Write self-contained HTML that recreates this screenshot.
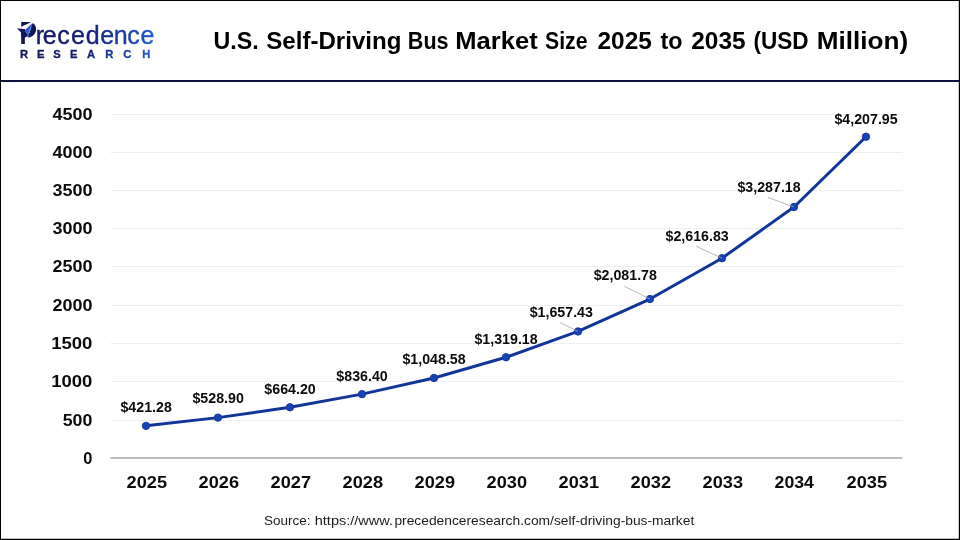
<!DOCTYPE html>
<html lang="en"><head><meta charset="utf-8"><title>U.S. Self-Driving Bus Market Size 2025 to 2035 (USD Million)</title>
<style>
html,body{margin:0;padding:0;background:#fff;}
body{width:960px;height:540px;overflow:hidden;font-family:"Liberation Sans",sans-serif;}
svg{display:block;position:absolute;left:0;top:0;}
text{font-family:"Liberation Sans",sans-serif;}
.b{font-weight:bold;fill:#0b0b0b;}
.t{font-weight:bold;fill:#000;}
</style></head><body>
<svg width="960" height="540" viewBox="0 0 960 540">
<defs>
<linearGradient id="lg" gradientUnits="userSpaceOnUse" x1="17" x2="154" y1="0" y2="0"><stop offset="0" stop-color="#141659"/><stop offset="0.5" stop-color="#151f74"/><stop offset="0.75" stop-color="#1a3a9e"/><stop offset="0.9" stop-color="#1d4ab8"/><stop offset="1" stop-color="#2560d6"/></linearGradient>
</defs>
<rect x="0" y="0" width="960" height="540" fill="#fff"/>

<line x1="110.5" x2="902.5" y1="420.5" y2="420.5" stroke="#eeeeee" stroke-width="1"/>
<line x1="110.5" x2="902.5" y1="381.5" y2="381.5" stroke="#eeeeee" stroke-width="1"/>
<line x1="110.5" x2="902.5" y1="343.5" y2="343.5" stroke="#eeeeee" stroke-width="1"/>
<line x1="110.5" x2="902.5" y1="305.5" y2="305.5" stroke="#eeeeee" stroke-width="1"/>
<line x1="110.5" x2="902.5" y1="266.5" y2="266.5" stroke="#eeeeee" stroke-width="1"/>
<line x1="110.5" x2="902.5" y1="228.5" y2="228.5" stroke="#eeeeee" stroke-width="1"/>
<line x1="110.5" x2="902.5" y1="190.5" y2="190.5" stroke="#eeeeee" stroke-width="1"/>
<line x1="110.5" x2="902.5" y1="152.5" y2="152.5" stroke="#eeeeee" stroke-width="1"/>
<line x1="110.5" x2="902.5" y1="114.5" y2="114.5" stroke="#eeeeee" stroke-width="1"/>
<line x1="110.5" x2="902.5" y1="458.0" y2="458.0" stroke="#bdbdbd" stroke-width="2"/>
<text class="b" x="83.3" y="463.9" font-size="16" textLength="9.1" lengthAdjust="spacingAndGlyphs">0</text>
<text class="b" x="62.7" y="426.4" font-size="16" textLength="29.69" lengthAdjust="spacingAndGlyphs">500</text>
<text class="b" x="51.24" y="387.4" font-size="16" textLength="41.14" lengthAdjust="spacingAndGlyphs">1000</text>
<text class="b" x="51.24" y="349.4" font-size="16" textLength="41.14" lengthAdjust="spacingAndGlyphs">1500</text>
<text class="b" x="52.4" y="311.4" font-size="16" textLength="39.99" lengthAdjust="spacingAndGlyphs">2000</text>
<text class="b" x="52.4" y="272.4" font-size="16" textLength="39.99" lengthAdjust="spacingAndGlyphs">2500</text>
<text class="b" x="52.4" y="234.4" font-size="16" textLength="39.99" lengthAdjust="spacingAndGlyphs">3000</text>
<text class="b" x="52.4" y="196.4" font-size="16" textLength="39.99" lengthAdjust="spacingAndGlyphs">3500</text>
<text class="b" x="52.4" y="158.4" font-size="16" textLength="39.99" lengthAdjust="spacingAndGlyphs">4000</text>
<text class="b" x="52.4" y="120.4" font-size="16" textLength="39.99" lengthAdjust="spacingAndGlyphs">4500</text>
<text class="b" x="126.6" y="488.3" font-size="17" textLength="40.39" lengthAdjust="spacingAndGlyphs">2025</text>
<text class="b" x="198.6" y="488.3" font-size="17" textLength="40.39" lengthAdjust="spacingAndGlyphs">2026</text>
<text class="b" x="270.6" y="488.3" font-size="17" textLength="40.39" lengthAdjust="spacingAndGlyphs">2027</text>
<text class="b" x="342.6" y="488.3" font-size="17" textLength="40.39" lengthAdjust="spacingAndGlyphs">2028</text>
<text class="b" x="414.6" y="488.3" font-size="17" textLength="40.39" lengthAdjust="spacingAndGlyphs">2029</text>
<text class="b" x="486.6" y="488.3" font-size="17" textLength="40.39" lengthAdjust="spacingAndGlyphs">2030</text>
<text class="b" x="558.6" y="488.3" font-size="17" textLength="40.39" lengthAdjust="spacingAndGlyphs">2031</text>
<text class="b" x="630.6" y="488.3" font-size="17" textLength="40.39" lengthAdjust="spacingAndGlyphs">2032</text>
<text class="b" x="702.6" y="488.3" font-size="17" textLength="40.39" lengthAdjust="spacingAndGlyphs">2033</text>
<text class="b" x="774.6" y="488.3" font-size="17" textLength="39.33" lengthAdjust="spacingAndGlyphs">2034</text>
<text class="b" x="846.6" y="488.3" font-size="17" textLength="40.39" lengthAdjust="spacingAndGlyphs">2035</text>
<polyline points="146.0,425.83 218.0,417.62 290.0,407.28 362.0,394.14 434.0,377.94 506.0,357.27 578.0,331.45 650.0,299.04 722.0,258.19 794.0,207.01 866.0,136.70" fill="none" stroke="#12359a" stroke-width="3" stroke-linejoin="round" stroke-linecap="round"/>
<circle cx="146.0" cy="425.83" r="3.7" fill="#1942b6" stroke="#12359a" stroke-width="0.9"/>
<circle cx="218.0" cy="417.62" r="3.7" fill="#1942b6" stroke="#12359a" stroke-width="0.9"/>
<circle cx="290.0" cy="407.28" r="3.7" fill="#1942b6" stroke="#12359a" stroke-width="0.9"/>
<circle cx="362.0" cy="394.14" r="3.7" fill="#1942b6" stroke="#12359a" stroke-width="0.9"/>
<circle cx="434.0" cy="377.94" r="3.7" fill="#1942b6" stroke="#12359a" stroke-width="0.9"/>
<circle cx="506.0" cy="357.27" r="3.7" fill="#1942b6" stroke="#12359a" stroke-width="0.9"/>
<circle cx="578.0" cy="331.45" r="3.7" fill="#1942b6" stroke="#12359a" stroke-width="0.9"/>
<circle cx="650.0" cy="299.04" r="3.7" fill="#1942b6" stroke="#12359a" stroke-width="0.9"/>
<circle cx="722.0" cy="258.19" r="3.7" fill="#1942b6" stroke="#12359a" stroke-width="0.9"/>
<circle cx="794.0" cy="207.01" r="3.7" fill="#1942b6" stroke="#12359a" stroke-width="0.9"/>
<circle cx="866.0" cy="136.70" r="3.7" fill="#1942b6" stroke="#12359a" stroke-width="0.9"/>
<line x1="560" y1="322.5" x2="578.0" y2="331.45" stroke="#a6a6a6" stroke-width="0.8"/>
<line x1="624.25" y1="286.25" x2="650.0" y2="299.04" stroke="#a6a6a6" stroke-width="0.8"/>
<line x1="696.25" y1="246.25" x2="722.0" y2="258.19" stroke="#a6a6a6" stroke-width="0.8"/>
<line x1="768" y1="197.5" x2="794.0" y2="207.01" stroke="#a6a6a6" stroke-width="0.8"/>
<text class="b" x="120.45" y="412.05" font-size="14.5" textLength="51.36" lengthAdjust="spacingAndGlyphs">$421.28</text>
<text class="b" x="192.45" y="403.3" font-size="14.5" textLength="51.36" lengthAdjust="spacingAndGlyphs">$528.90</text>
<text class="b" x="264.35" y="394.05" font-size="14.5" textLength="51.36" lengthAdjust="spacingAndGlyphs">$664.20</text>
<text class="b" x="336.35" y="381.05" font-size="14.5" textLength="51.36" lengthAdjust="spacingAndGlyphs">$836.40</text>
<text class="b" x="402.4" y="363.55" font-size="14.5" textLength="63.26" lengthAdjust="spacingAndGlyphs">$1,048.58</text>
<text class="b" x="474.4" y="344.05" font-size="14.5" textLength="63.26" lengthAdjust="spacingAndGlyphs">$1,319.18</text>
<text class="b" x="529.65" y="316.55" font-size="14.5" textLength="63.26" lengthAdjust="spacingAndGlyphs">$1,657.43</text>
<text class="b" x="593.65" y="279.55" font-size="14.5" textLength="63.26" lengthAdjust="spacingAndGlyphs">$2,081.78</text>
<text class="b" x="665.5" y="240.8" font-size="14.5" textLength="63.26" lengthAdjust="spacingAndGlyphs">$2,616.83</text>
<text class="b" x="737.4" y="192.0" font-size="14.5" textLength="63.26" lengthAdjust="spacingAndGlyphs">$3,287.18</text>
<text class="b" x="834.4" y="123.6" font-size="14.5" textLength="63.26" lengthAdjust="spacingAndGlyphs">$4,207.95</text>
<text class="t" y="48.8" font-size="24.5"><tspan x="213.55" textLength="45.21" lengthAdjust="spacingAndGlyphs">U.S.</tspan> <tspan x="266.25" textLength="135.2" lengthAdjust="spacingAndGlyphs">Self-Driving</tspan> <tspan x="407.87" textLength="40.68" lengthAdjust="spacingAndGlyphs">Bus</tspan> <tspan x="455.21" textLength="82.46" lengthAdjust="spacingAndGlyphs">Market</tspan> <tspan x="545.0" textLength="42.54" lengthAdjust="spacingAndGlyphs">Size</tspan> <tspan x="597.5" textLength="54.37" lengthAdjust="spacingAndGlyphs">2025</tspan> <tspan x="660.5" textLength="21.97" lengthAdjust="spacingAndGlyphs">to</tspan> <tspan x="691.25" textLength="54.37" lengthAdjust="spacingAndGlyphs">2035</tspan> <tspan x="753.58" textLength="55.06" lengthAdjust="spacingAndGlyphs">(USD</tspan> <tspan x="816.83" textLength="91.4" lengthAdjust="spacingAndGlyphs">Million)</tspan></text>
<text y="525" font-size="12.7" fill="#1c1c1c"><tspan x="264.0" textLength="46.56" lengthAdjust="spacingAndGlyphs">Source:</tspan> <tspan x="314.75" textLength="78.35" lengthAdjust="spacingAndGlyphs">https://www.</tspan><tspan x="394.4" textLength="299.88" lengthAdjust="spacingAndGlyphs">precedenceresearch.com/self-driving-bus-market</tspan></text>
<rect x="0" y="80" width="960" height="2" fill="#10123f"/>
<text fill="url(#lg)" stroke="url(#lg)" stroke-width="0.35"><tspan x="19.6" y="44.3" font-size="31.3" font-weight="bold" fill="#11155a" stroke="none" textLength="17" lengthAdjust="spacingAndGlyphs">P</tspan><tspan x="35.75 42.75 57.35 70.9 85.65 100.35 113.7 127.25 140.5" y="44.1" font-size="25">recedence</tspan></text>
<path d="M32.2,23.4 C34.8,24.2 36.2,26.6 36.0,29.6 C35.8,33.8 32.6,37.2 28.0,37.7 Z" fill="#11155a"/>
<path d="M21.2,26.7 L32.6,21.6 L33.0,23.2 L25.2,29.5 L17.6,28.2 Z" fill="#fff"/>
<path d="M16.8,28.15 L25.3,29.3 L26.9,36.2 L25.2,37.6 L21.2,37.6 L21.2,32.7 L19.2,30.6 Z" fill="#11155a"/>
<path d="M31.9,23.4 L25.5,29.6 L27.4,36.4 Z" fill="#2458cc"/>
<path d="M31.9,23.4 L29.3,30.2 L27.4,36.4 L28.2,36.6 L32.5,23.6 Z" fill="#4d8cf0"/>
<text x="19.95 36.95 53.25 70.0 87.05 105.15 123.3 142.25" y="57.75" font-size="11.2" font-weight="bold" fill="url(#lg)" stroke="url(#lg)" stroke-width="0.3">RESEARCH</text>
<path d="M0,0H960V540H0Z M1,1V538.8H958.8V1Z" fill="#000" fill-rule="evenodd"/>
</svg></body></html>
